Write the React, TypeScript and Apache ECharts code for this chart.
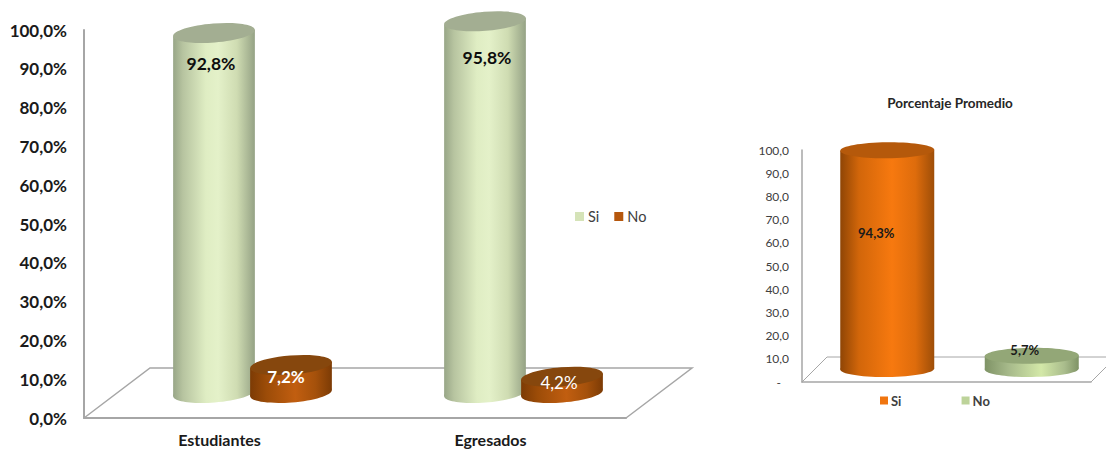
import React, { useEffect, useRef } from "react";
import * as echarts from "echarts";

// Survey results by group
const groupCategories = ["Estudiantes", "Egresados"];
const groupSi = [92.8, 95.8];
const groupNo = [7.2, 4.2];

// Overall average
const averageCategories = ["Si", "No"];
const averageSi = 94.3;
const averageNo = 5.7;

const FONT = "Lato, 'Noto Sans', sans-serif";

const comma = (v: number) => v.toFixed(1).replace(".", ",");
const pct = (v: number) => comma(v) + "%";

const sideGradient = (stops: [number, string][]) =>
  new echarts.graphic.LinearGradient(
    0,
    0,
    1,
    0,
    stops.map(([offset, color]) => ({ offset, color }))
  );

type CylinderStyle = {
  barOffset: number; // horizontal shift from the band centre
  lift: number; // floor position of a zero value above the axis
  rx: number;
  ry: number;
  tilt: number; // counter-clockwise lean of the caps, in radians
  side: [number, string][];
  top: string;
  labels: { dx: number; dy: number; fill: string; weight: string; size: number }[];
};

// One cylinder: side wall, bottom cap and top cap, scaled by the value axis.
const cylinder = (s: CylinderStyle) => (params: any, api: any) => {
  const cat = api.value(0);
  const val = api.value(1);
  const base = api.coord([cat, 0]);
  const head = api.coord([cat, val]);
  const cx = base[0] + s.barOffset;
  const yBase = base[1] - s.lift;
  const yTop = head[1] - s.lift;
  const ax = s.rx * Math.cos(s.tilt);
  const ay = s.rx * Math.sin(s.tilt);
  const fill = sideGradient(s.side);
  const label = s.labels[params.dataIndex];
  const cap = (cy: number, color: any) => ({
    type: "ellipse",
    x: cx,
    y: cy,
    rotation: s.tilt,
    shape: { cx: 0, cy: 0, rx: s.rx, ry: s.ry },
    style: { fill: color },
  });
  return {
    type: "group",
    children: [
      cap(yBase, fill),
      {
        type: "polygon",
        shape: {
          points: [
            [cx - ax, yTop + ay],
            [cx + ax, yTop - ay],
            [cx + ax, yBase - ay],
            [cx - ax, yBase + ay],
          ],
        },
        style: { fill },
      },
      cap(yTop, s.top),
      {
        type: "text",
        style: {
          x: cx + label.dx,
          y: yTop + label.dy,
          text: pct(val),
          fill: label.fill,
          font: `${label.weight} ${label.size}px ${FONT}`,
          textAlign: "center",
          textVerticalAlign: "middle",
        },
      },
    ],
  };
};

// The slanted floor behind the bars, built from the plot rectangle.
const floor = (dx: number, dy: number, color: string, width: number) => (params: any) => {
  const { x, y, width: w, height: h } = params.coordSys;
  const bottom = y + h;
  return {
    type: "polyline",
    shape: {
      points: [
        [x, bottom],
        [x + dx, bottom - dy],
        [x + w + dx, bottom - dy],
        [x + w, bottom],
      ],
    },
    style: { fill: "none", stroke: color, lineWidth: width },
  };
};

const paleGreenSide: [number, string][] = [
  [0, "#98a687"],
  [0.12, "#b7c4a0"],
  [0.4, "#dfedc3"],
  [0.55, "#e4f1c9"],
  [0.78, "#cfdcb2"],
  [1, "#95a285"],
];
const rustSide: [number, string][] = [
  [0, "#7c3b05"],
  [0.2, "#9c4c08"],
  [0.55, "#c15e10"],
  [0.8, "#a5510b"],
  [1, "#7c3b05"],
];
const orangeSide: [number, string][] = [
  [0, "#8f4505"],
  [0.2, "#d2660a"],
  [0.55, "#f7790f"],
  [0.8, "#de6c0c"],
  [1, "#9e4e08"],
];
const sageSide: [number, string][] = [
  [0, "#7f9366"],
  [0.25, "#a6b98a"],
  [0.6, "#d3e8a8"],
  [0.85, "#a9bc8c"],
  [1, "#7f9366"],
];

const AXIS_GREY = "#a6a6a6";

function buildOption() {
  return {
    animation: false,
    backgroundColor: "#ffffff",
    title: {
      text: "Porcentaje Promedio",
      left: 945,
      top: 91,
      textAlign: "center",
      textStyle: { fontFamily: FONT, fontSize: 13.5, fontWeight: "bold", color: "#262626" },
    },
    legend: [
      {
        left: 575,
        top: 209,
        padding: 0,
        itemWidth: 9,
        itemHeight: 9,
        itemGap: 15,
        icon: "rect",
        data: [
          { name: "Si", itemStyle: { color: "#d5e3b8" } },
          { name: "No", itemStyle: { color: "#b5570d" } },
        ],
        textStyle: { fontFamily: FONT, fontSize: 14.5, color: "#404040", padding: [0, 0, 0, -1] },
        selectedMode: false,
      },
      {
        left: 880,
        top: 394,
        padding: 0,
        itemWidth: 8,
        itemHeight: 8,
        itemGap: 57,
        icon: "rect",
        data: [
          { name: "Si ", itemStyle: { color: "#f0750f" } },
          { name: "No ", itemStyle: { color: "#bdd39a" } },
        ],
        textStyle: { fontFamily: FONT, fontSize: 13, fontWeight: "bold", color: "#404040", padding: [0, 0, 0, -2] },
        selectedMode: false,
      },
    ],
    grid: [
      { left: 84, top: 30, width: 542, height: 388 },
      { left: 802, top: 150, width: 289, height: 232 },
    ],
    xAxis: [
      {
        type: "category",
        gridIndex: 0,
        data: groupCategories,
        axisTick: { show: false },
        axisLine: { lineStyle: { color: AXIS_GREY, width: 2 } },
        axisLabel: { margin: 14, lineHeight: 14, fontFamily: FONT, fontSize: 16, fontWeight: "bold", color: "#1a1a1a" },
      },
      {
        type: "category",
        gridIndex: 1,
        data: averageCategories,
        axisTick: { show: false },
        axisLine: { lineStyle: { color: AXIS_GREY, width: 1.5 } },
        axisLabel: { show: false },
      },
    ],
    yAxis: [
      {
        type: "value",
        gridIndex: 0,
        min: 0,
        max: 100,
        interval: 10,
        splitLine: { show: false },
        axisTick: { show: false },
        axisLine: { show: true, lineStyle: { color: AXIS_GREY, width: 2 } },
        axisLabel: {
          margin: 17,
          fontFamily: FONT,
          fontSize: 17,
          fontWeight: "bold",
          color: "#1a1a1a",
          formatter: (v: number) => pct(v),
        },
      },
      {
        type: "value",
        gridIndex: 1,
        min: 0,
        max: 100,
        interval: 10,
        splitLine: { show: false },
        axisTick: { show: false },
        axisLine: { show: true, lineStyle: { color: AXIS_GREY, width: 1.5 } },
        axisLabel: {
          margin: 13,
          fontFamily: FONT,
          fontSize: 12,
          color: "#404040",
          formatter: (v: number) => (v === 0 ? "{dash|-}" : comma(v)),
          rich: { dash: { padding: [0, 8, 0, 0], fontFamily: FONT, fontSize: 12, color: "#404040" } },
        },
      },
    ],
    series: [
      {
        type: "custom",
        name: "floor-left",
        xAxisIndex: 0,
        yAxisIndex: 0,
        data: [[0, 0]],
        silent: true,
        renderItem: floor(66, 50, AXIS_GREY, 1.5),
      },
      {
        type: "custom",
        name: "floor-right",
        xAxisIndex: 1,
        yAxisIndex: 1,
        clip: false,
        data: [[0, 0]],
        silent: true,
        renderItem: floor(25, 25, AXIS_GREY, 1),
      },
      {
        type: "custom",
        name: "Si",
        xAxisIndex: 0,
        yAxisIndex: 0,
        data: groupSi.map((v, i) => [i, v]),
        itemStyle: { color: "#d5e3b8" },
        renderItem: cylinder({
          barOffset: -5.5,
          lift: 25,
          rx: 41,
          ry: 9.5,
          tilt: 0.08,
          side: paleGreenSide,
          top: "#a3ae92",
          labels: [
            { dx: -3, dy: 31, fill: "#0d0d0d", weight: "bold", size: 17.5 },
            { dx: 2, dy: 36, fill: "#0d0d0d", weight: "bold", size: 17.5 },
          ],
        }),
      },
      {
        type: "custom",
        name: "No",
        xAxisIndex: 0,
        yAxisIndex: 0,
        data: groupNo.map((v, i) => [i, v]),
        itemStyle: { color: "#b5570d" },
        renderItem: cylinder({
          barOffset: 71.5,
          lift: 25,
          rx: 41,
          ry: 9.5,
          tilt: 0.08,
          side: rustSide,
          top: "#86470d",
          labels: [
            { dx: -5, dy: 11, fill: "#ffffff", weight: "bold", size: 17 },
            { dx: -3, dy: 6, fill: "#ffffff", weight: "normal", size: 17 },
          ],
        }),
      },
      {
        type: "custom",
        name: "Si ",
        xAxisIndex: 1,
        yAxisIndex: 1,
        data: [[0, averageSi]],
        itemStyle: { color: "#f0750f" },
        renderItem: cylinder({
          barOffset: 13,
          lift: 13,
          rx: 47,
          ry: 8,
          tilt: 0.01,
          side: orangeSide,
          top: "#b5590b",
          labels: [{ dx: -11, dy: 83, fill: "#1a1a1a", weight: "bold", size: 13 }],
        }),
      },
      {
        type: "custom",
        name: "No ",
        xAxisIndex: 1,
        yAxisIndex: 1,
        data: [[1, averageNo]],
        itemStyle: { color: "#bdd39a" },
        renderItem: cylinder({
          barOffset: 13,
          lift: 13,
          rx: 47,
          ry: 8,
          tilt: 0.01,
          side: sageSide,
          top: "#93a777",
          labels: [{ dx: -7, dy: -6, fill: "#1a1a1a", weight: "bold", size: 13 }],
        }),
      },
    ],
  };
}

export default function App() {
  const ref = useRef<HTMLDivElement>(null);
  useEffect(() => {
    const chart = echarts.init(ref.current!, undefined, { renderer: "svg" });
    chart.setOption(buildOption() as any);
    return () => chart.dispose();
  }, []);
  return <div ref={ref} style={{ position: "absolute", left: 0, top: 0, width: 1106, height: 449 }} />;
}
